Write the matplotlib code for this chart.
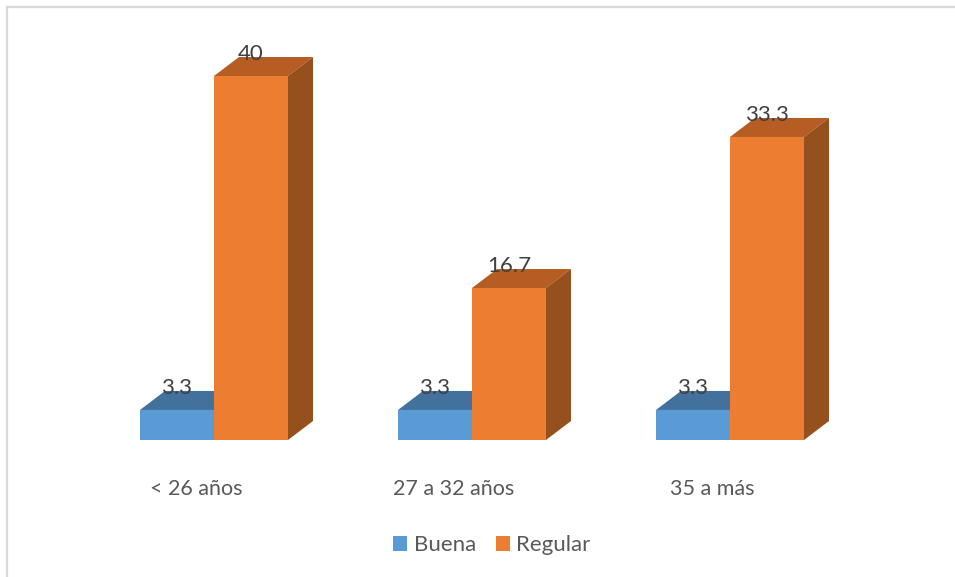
import matplotlib.pyplot as plt
import numpy as np
from matplotlib.patches import Polygon, Rectangle

categories = ['< 26 años', '27 a 32 años', '35 a más']
buena = [3.3, 3.3, 3.3]
regular = [40, 16.7, 33.3]

plt.rcParams['font.family'] = ['Lato', 'DejaVu Sans']

width = 74 / 258  # the width of the bars
depth_x = 25 / 258  # fake 3d offset of the back face
depth_y = 19 / 9.1

ind = np.arange(len(categories))
fig = plt.figure(figsize=(9.55, 5.77), dpi=100)
ax = fig.add_axes([0, 137 / 577, 1, 440 / 577])
ax.set_xlim(-214 / 258, 741 / 258)
ax.set_ylim(0, 440 / 9.1)

# chart frame, runs off the right and bottom edges
fig.patches.append(Rectangle((7 / 955, -0.01), 1.01, 0.998, transform=fig.transFigure,
                             fill=False, edgecolor='#d9d9d9', linewidth=1.6))


def bars3d(xs, values, front, top, side, label, zorder):
    rects = ax.bar(xs, values, width, color=front, label=label, zorder=zorder)
    for rect in rects:
        x0 = rect.get_x()
        x1 = x0 + rect.get_width()
        h = rect.get_height()
        ax.add_patch(Polygon([(x0, h), (x1, h), (x1 + depth_x, h + depth_y), (x0 + depth_x, h + depth_y)],
                             facecolor=top, edgecolor='none', zorder=zorder))
        ax.add_patch(Polygon([(x1, 0), (x1 + depth_x, depth_y), (x1 + depth_x, h + depth_y), (x1, h)],
                             facecolor=side, edgecolor='none', zorder=zorder))
    return rects


def autolabel(rects):
    for rect in rects:
        h = rect.get_height()
        ax.text(rect.get_x() + rect.get_width() / 2., h + 2.45, '%g' % h,
                ha='center', va='center', fontsize=16, color='#404040', zorder=5)


bar1 = bars3d(ind - width / 2, buena, '#5b9bd5', '#41719c', '#3f6d96', 'Buena', 3)
bar2 = bars3d(ind + width / 2, regular, '#ed7d31', '#b55d22', '#96501d', 'Regular', 4)

autolabel(bar1)
autolabel(bar2)

ax.set_xticks(ind - 18 / 258)
ax.set_xticklabels(categories)
ax.tick_params(axis='x', length=0, pad=28, labelsize=15.5, labelcolor='#595959')
ax.set_yticks([])
for spine in ax.spines.values():
    spine.set_visible(False)

ax.legend(loc='center', bbox_to_anchor=(492 / 955, 1 - 545 / 577), bbox_transform=fig.transFigure,
          ncol=2, frameon=False, fontsize=16, labelcolor='#595959', handlelength=0.64, handleheight=0.64,
          handletextpad=0.28, columnspacing=0.9, borderpad=0)

plt.savefig('out.png', dpi=100)
